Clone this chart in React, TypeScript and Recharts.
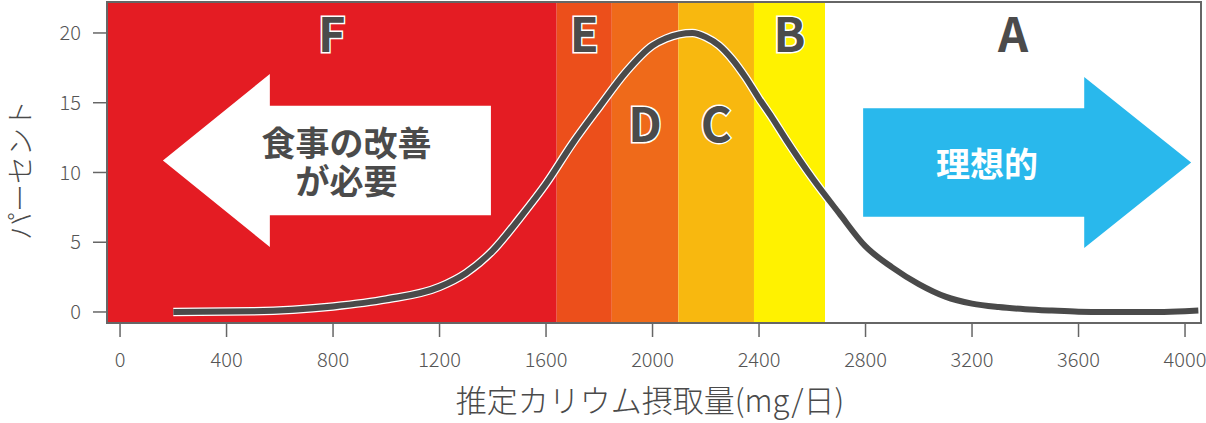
import { ComposedChart, Label, Line, ReferenceArea, XAxis, YAxis } from "recharts";

document.body.style.margin = "0";

// estimated potassium intake (mg/day) and share of people (%)
const intake = [200, 500, 800, 1000, 1200, 1300, 1400, 1500, 1600, 1700, 1800, 1900, 2000, 2050, 2100, 2150, 2200, 2250, 2300, 2350, 2400, 2450, 2500, 2600, 2700, 2800, 2900, 3000, 3100, 3200, 3300, 3400, 3500, 3600, 3700, 3800, 3900, 4000, 4050];
const percent = [0, 0.05, 0.4, 0.9, 1.8, 2.8, 4.4, 6.7, 9.2, 12.1, 14.7, 17.2, 19.1, 19.6, 19.9, 20, 19.7, 19.1, 18.1, 16.8, 15.3, 13.9, 12.4, 9.6, 7.1, 4.7, 3.2, 2.0, 1.1, 0.6, 0.35, 0.2, 0.1, 0.02, 0, 0, 0, 0.05, 0.1];

const xTicks = [0, 400, 800, 1200, 1600, 2000, 2400, 2800, 3200, 3600, 4000];
const yTicks = [0, 5, 10, 15, 20];

// grade bands: F..A
const bandNames = ["F", "E", "D", "C", "B", "A"];
const bandEdges = [-49, 1640, 1847, 2097, 2381, 2648, 4060];
const bandColors = ["#e41c23", "#ec4f1b", "#ef6a1a", "#f8b80f", "#fff200", "#ffffff"];
const bandLabelDrop = [0, 0, 90, 90, 0, 0];

const X_DOMAIN: [number, number] = [-49, 4060];
const Y_DOMAIN: [number, number] = [-0.79, 22.22];

const data = intake.map((x, i) => ({ x, y: percent[i] }));

const FONT = '"Noto Sans CJK JP", "Noto Sans", sans-serif';
const INK = "#4b4b4b";

function BandLabel(props: any) {
  const { viewBox, value, drop } = props;
  const cx = viewBox.x + viewBox.width / 2;
  return (
    <text
      x={cx}
      y={viewBox.y + 29 + drop}
      textAnchor="middle"
      dominantBaseline="central"
      fontFamily={FONT}
      fontWeight={700}
      fontSize={47}
      fill={INK}
      stroke="#ffffff"
      strokeWidth={3}
      paintOrder="stroke"
    >
      {value}
    </text>
  );
}

function arrowShape(dir: "left" | "right", color: string, lines: string[], textColor: string, textAt: number) {
  return (props: any) => {
    const { x, y, width: w, height: h } = props;
    const head = w * 0.326;
    const body = h * 0.634;
    const bt = y + (h - body) / 2;
    const bb = y + (h + body) / 2;
    const pts =
      dir === "left"
        ? [[x, y + h / 2], [x + head, y], [x + head, bt], [x + w, bt], [x + w, bb], [x + head, bb], [x + head, y + h]]
        : [[x + w, y + h / 2], [x + w - head, y], [x + w - head, bt], [x, bt], [x, bb], [x + w - head, bb], [x + w - head, y + h]];
    const tx = x + w * textAt;
    const gap = 38;
    const top = y + h / 2 - ((lines.length - 1) * gap) / 2;
    return (
      <g>
        <polygon points={pts.map((p) => p.join(",")).join(" ")} fill={color} />
        <text
          textAnchor="middle"
          dominantBaseline="central"
          fontFamily={FONT}
          fontWeight={700}
          fontSize={34}
          fill={textColor}
        >
          {lines.map((t, i) => (
            <tspan key={t} x={tx} y={top + i * gap}>
              {t}
            </tspan>
          ))}
        </text>
      </g>
    );
  };
}

const LeftArrow = arrowShape("left", "#ffffff", ["食事の改善", "が必要"], INK, 0.56);
const RightArrow = arrowShape("right", "#29b8ec", ["理想的"], "#ffffff", 0.378);

const tickStyle = { fontFamily: FONT, fontSize: 20, fontWeight: 300, fill: "#555555" };

export default function App() {
  return (
    <ComposedChart width={1206} height={423} data={data} margin={{ top: 2, right: 5, left: 0, bottom: 0 }}>
      <XAxis
        type="number"
        dataKey="x"
        domain={X_DOMAIN}
        ticks={xTicks}
        allowDataOverflow
        axisLine={false}
        tickLine={{ stroke: "#666666", strokeWidth: 1.5 }}
        tickSize={14}
        tickMargin={16}
        tick={tickStyle}
        height={100}
      >
        <Label
          content={(p: any) => (
            <text
              x={650}
              y={p.viewBox.y + 75}
              textAnchor="middle"
              dominantBaseline="central"
              fontFamily={FONT}
              fontWeight={300}
              fontSize={31}
              fill="#4a4a4a"
            >
              推定カリウム摂取量(mg/日)
            </text>
          )}
        />
      </XAxis>
      <YAxis
        type="number"
        domain={Y_DOMAIN}
        ticks={yTicks}
        allowDataOverflow
        axisLine={false}
        tickLine={{ stroke: "#666666", strokeWidth: 1.5 }}
        tickSize={14}
        tickMargin={12}
        tick={tickStyle}
        width={107}
      >
        <Label
          content={() => (
            <text
              x={19}
              y={170}
              transform="rotate(-90 19 170)"
              textAnchor="middle"
              dominantBaseline="central"
              fontFamily={FONT}
              fontWeight={300}
              fontSize={28}
              fill="#4a4a4a"
            >
              パーセント
            </text>
          )}
        />
      </YAxis>

      {bandNames.map((name, i) => (
        <ReferenceArea
          key={name}
          x1={bandEdges[i]}
          x2={bandEdges[i + 1]}
          y1={Y_DOMAIN[0]}
          y2={Y_DOMAIN[1]}
          fill={bandColors[i]}
          fillOpacity={1}
          stroke="none"
          label={<BandLabel value={name} drop={bandLabelDrop[i]} />}
        />
      ))}

      <ReferenceArea x1={161} x2={1393} y1={4.66} y2={17.06} shape={LeftArrow} fillOpacity={1} />
      <ReferenceArea x1={2791} x2={4023} y1={4.59} y2={16.85} shape={RightArrow} fillOpacity={1} />

      <Line type="monotone" dataKey="y" stroke="#ffffff" strokeWidth={8.5} dot={false} activeDot={false} isAnimationActive={false} />
      <Line type="monotone" dataKey="y" stroke="#4a4a4a" strokeWidth={6} dot={false} activeDot={false} isAnimationActive={false} />

      <ReferenceArea
        x1={X_DOMAIN[0]}
        x2={X_DOMAIN[1]}
        y1={Y_DOMAIN[0]}
        y2={Y_DOMAIN[1]}
        fill="none"
        stroke="#666666"
        strokeWidth={2}
      />
    </ComposedChart>
  );
}
